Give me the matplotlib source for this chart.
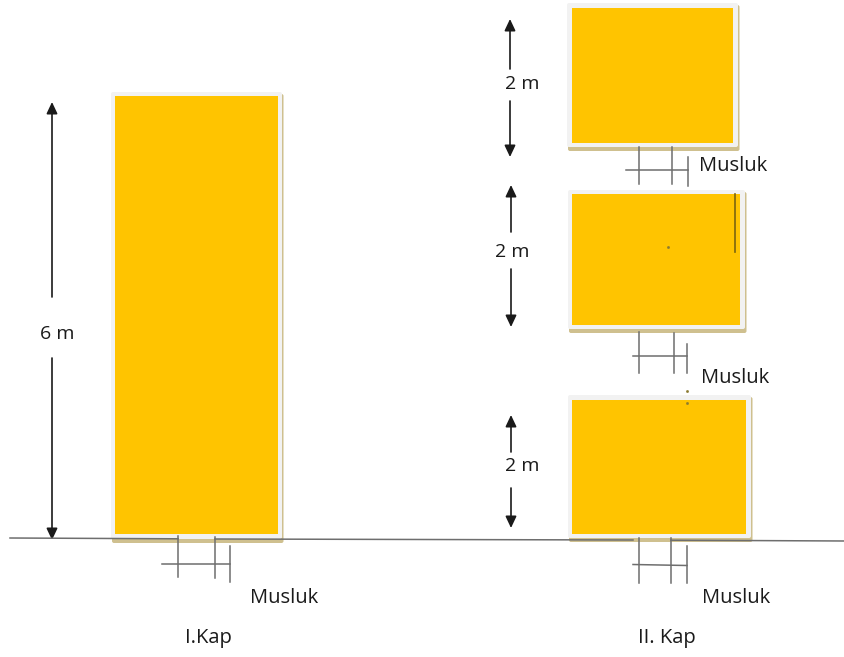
"""Two tank setups with faucets, drawn in the picture's pixel coordinates."""

import matplotlib
matplotlib.use("Agg")
import matplotlib.pyplot as plt
from matplotlib.patches import FancyBboxPatch, Rectangle

WIDTH, HEIGHT = 845, 657

# tank outlines: frame left, right, top, bottom
tank_frames = [(111, 282, 92, 539), (567, 738, 3, 147), (568, 745, 190, 329), (568, 751, 395, 538)]
# yellow fill: left, right, top, bottom
tank_fills = [(115, 278, 96, 534), (572, 733, 8, 143), (572, 740, 194, 325), (572, 746, 400, 534)]

# ground line pieces (x0, y0, x1, y1), broken where the faucets leave the tanks
ground_pieces = [(10, 538, 178, 538.8), (215, 539, 633, 540), (671, 540.2, 845, 541)]

# faucets: three vertical pipes (x, top, bottom), then the crossbar (x0, y0, x1, y1)
faucet_pipes = [
    [(178, 536, 577), (215, 537, 578), (230, 546, 582)],
    [(639, 147, 184), (672, 147, 184), (688, 157, 186)],
    [(639, 332, 373), (674, 333, 373), (687, 344, 373)],
    [(639, 538, 583), (671, 538, 583), (687, 546, 583)],
]
faucet_bars = [(162, 564, 230, 564), (626, 170, 688, 170), (633, 356, 687, 356), (633, 564.5, 687, 565.5)]

# height arrows: x, top tip, upper shaft end, lower shaft start, bottom tip
height_arrows = [(52, 102, 297, 358, 540), (510, 19, 69, 101, 157), (511, 185, 232, 269, 327), (511, 415, 452, 488, 528)]
height_labels = ["6 m", "2 m", "2 m", "2 m"]
height_label_pos = [(57, 334), (522, 84), (512, 252), (522, 466)]

faucet_label = "Musluk"
faucet_label_pos = [(284, 598), (733, 166), (735, 378), (736, 598)]
group_labels = ["I.Kap", "II. Kap"]
group_label_pos = [(208, 638), (667, 638)]

TANK_YELLOW = "#FFC400"
FRAME_GREY = "#F2F2F2"
SHADOW = "#CFC08F"
LINE_GREY = "#6E6E6E"
TEXT_COLOR = "#1A1A1A"

plt.rcParams["font.family"] = ["Open Sans", "DejaVu Sans"]

fig = plt.figure(figsize=(WIDTH / 100, HEIGHT / 100), dpi=100)
ax = fig.add_axes([0, 0, 1, 1])
ax.set_xlim(0, WIDTH)
ax.set_ylim(HEIGHT, 0)
ax.axis("off")


def rounded(left, right, top, bottom, color, zorder):
    """Rounded box for the tank frame and its shadow."""
    return FancyBboxPatch((left, top), right - left, bottom - top,
                          boxstyle="round,pad=0,rounding_size=2",
                          facecolor=color, edgecolor="none", zorder=zorder)


for (l, r, t, b), (fl, fr, ft, fb) in zip(tank_frames, tank_fills):
    ax.add_patch(rounded(l + 1, r + 1.5, t + 2, b + 4, SHADOW, 2))
    ax.add_patch(rounded(l, r, t, b, FRAME_GREY, 3))
    ax.add_patch(Rectangle((fl, ft), fr - fl, fb - ft, facecolor=TANK_YELLOW,
                           edgecolor="none", zorder=4))

# ground line sits over the tank shadows
for x0, y0, x1, y1 in ground_pieces:
    ax.plot([x0, x1], [y0, y1], color=LINE_GREY, lw=1.1, zorder=5)

# small stray stroke and specks from the original drawing
ax.plot([735.5, 735.5], [194, 252], color="#7A6410", lw=1.2, zorder=5)
ax.plot([668.5, 687.5, 687.5], [247, 403, 391], ls="none", marker="s", ms=0.9,
        color="#8A7A30", zorder=5)

for pipes, (x0, y0, x1, y1) in zip(faucet_pipes, faucet_bars):
    for x, top, bottom in pipes:
        ax.plot([x, x], [top, bottom], color=LINE_GREY, lw=1.1, zorder=5)
    ax.plot([x0, x1], [y0, y1], color=LINE_GREY, lw=1.1, zorder=5)

arrow_style = dict(arrowstyle="-|>,head_width=0.33,head_length=0.7", color="#1A1A1A",
                   lw=1.2, shrinkA=0, shrinkB=0)
for x, tip_top, shaft_top, shaft_bottom, tip_bottom in height_arrows:
    ax.annotate("", xy=(x, tip_top), xytext=(x, shaft_top), arrowprops=arrow_style)
    ax.annotate("", xy=(x, tip_bottom), xytext=(x, shaft_bottom), arrowprops=arrow_style)

for label, (x, y) in zip(height_labels, height_label_pos):
    ax.text(x, y, label, fontsize=14, color=TEXT_COLOR, ha="center", va="center")
for x, y in faucet_label_pos:
    ax.text(x, y, faucet_label, fontsize=14.5, color=TEXT_COLOR, ha="center", va="center")
for label, (x, y) in zip(group_labels, group_label_pos):
    ax.text(x, y, label, fontsize=14.5, color=TEXT_COLOR, ha="center", va="center")

fig.savefig("out.png", dpi=100, facecolor="white")
